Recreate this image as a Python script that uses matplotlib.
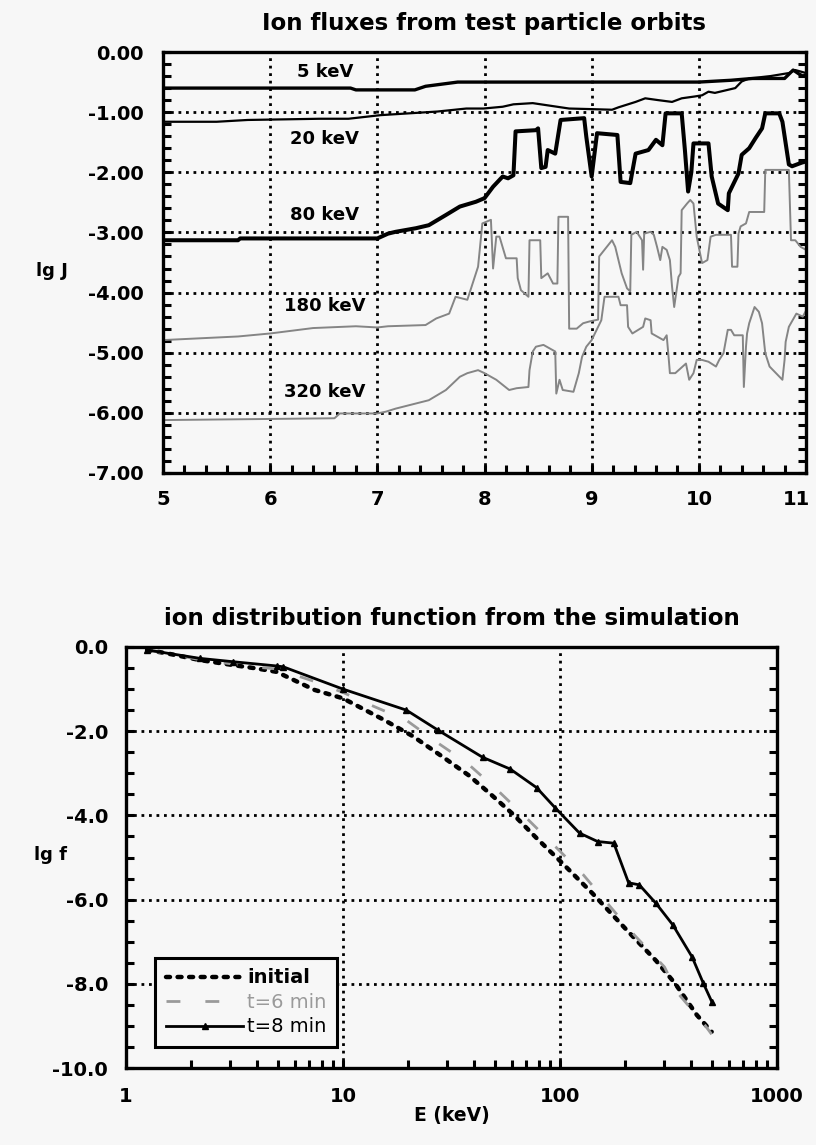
import matplotlib
matplotlib.use('Agg')
import matplotlib.pyplot as plt
from matplotlib.ticker import MultipleLocator, LogLocator, NullFormatter
from matplotlib.transforms import ScaledTranslation

plt.rcParams['font.family'] = ['DejaVu Sans']
plt.rcParams['axes.unicode_minus'] = False

# ---------------- data: top panel (lg J vs L) ----------------
x_5kev = [5.0, 6.75, 6.8, 7.35, 7.45, 7.75, 10.0, 10.3, 10.5, 10.8, 10.84, 10.88, 10.93, 10.97, 11.0]
j_5kev = [-0.60, -0.60, -0.63, -0.63, -0.57, -0.50, -0.50, -0.47, -0.44, -0.44, -0.37, -0.30, -0.36, -0.40, -0.38]

x_20kev = [5.0, 5.5, 5.79, 6.46, 6.73, 7.03, 7.56, 7.83, 7.99, 8.17, 8.27, 8.45, 8.79, 9.0, 9.19,
           9.25, 9.41, 9.5, 9.62, 9.75, 9.84, 9.96, 10.03, 10.09, 10.15, 10.34, 10.4, 10.47, 10.67,
           10.84, 10.9, 11.0]
j_20kev = [-1.16, -1.16, -1.13, -1.11, -1.11, -1.05, -0.99, -0.94, -0.94, -0.91, -0.87, -0.85, -0.94, -0.95, -0.96,
           -0.92, -0.83, -0.77, -0.80, -0.83, -0.77, -0.74, -0.72, -0.66, -0.68, -0.60, -0.49, -0.44, -0.40,
           -0.35, -0.30, -0.35]

x_80kev = [5.0, 5.7, 5.72, 7.0, 7.1, 7.17, 7.36, 7.48, 7.64, 7.77, 7.92, 8.0, 8.08, 8.17, 8.22,
           8.27, 8.29, 8.48, 8.5, 8.53, 8.57, 8.59, 8.66, 8.71, 8.93, 8.95, 9.0, 9.05, 9.24, 9.27,
           9.36, 9.41, 9.53, 9.6, 9.66, 9.69, 9.84, 9.87, 9.9, 9.93, 9.95, 10.09, 10.12, 10.18, 10.27,
           10.28, 10.34, 10.37, 10.4, 10.47, 10.53, 10.59, 10.62, 10.75, 10.78, 10.84, 10.87, 10.96, 11.0]
j_80kev = [-3.13, -3.13, -3.10, -3.10, -3.02, -2.99, -2.93, -2.88, -2.71, -2.57, -2.49, -2.43, -2.24, -2.07, -2.10,
           -2.05, -1.32, -1.30, -1.27, -1.93, -1.91, -1.63, -1.69, -1.13, -1.10, -1.41, -2.07, -1.35, -1.38, -2.16,
           -2.18, -1.69, -1.63, -1.46, -1.55, -1.02, -1.02, -1.63, -2.32, -2.00, -1.52, -1.52, -2.07, -2.52, -2.63,
           -2.35, -2.13, -2.02, -1.71, -1.60, -1.43, -1.27, -1.02, -1.02, -1.16, -1.87, -1.90, -1.84, -1.82]

x_180kev = [5.0, 5.7, 6.0, 6.4, 6.8, 7.0, 7.1, 7.45, 7.55, 7.67, 7.73, 7.84, 7.88, 7.94, 7.98,
            8.02, 8.06, 8.08, 8.11, 8.14, 8.2, 8.3, 8.31, 8.34, 8.41, 8.42, 8.52, 8.53, 8.59, 8.64,
            8.68, 8.69, 8.78, 8.79, 8.86, 8.92, 8.98, 9.06, 9.07, 9.19, 9.22, 9.25, 9.28, 9.33, 9.36,
            9.37, 9.42, 9.47, 9.48, 9.49, 9.55, 9.58, 9.61, 9.64, 9.66, 9.7, 9.73, 9.75, 9.77, 9.81,
            9.83, 9.84, 9.89, 9.92, 9.95, 9.98, 10.03, 10.08, 10.11, 10.16, 10.30, 10.31, 10.36, 10.37, 10.39,
            10.44, 10.47, 10.61, 10.62, 10.84, 10.86, 10.9, 10.95, 11.0]
j_180kev = [-4.79, -4.73, -4.68, -4.59, -4.56, -4.58, -4.56, -4.54, -4.43, -4.35, -4.07, -4.12, -3.90, -3.57, -2.85,
            -2.82, -2.79, -3.60, -3.07, -3.07, -3.43, -3.43, -3.76, -3.96, -4.07, -3.13, -3.13, -3.76, -3.68, -3.85,
            -3.85, -2.74, -2.74, -4.60, -4.60, -4.51, -4.48, -4.45, -3.40, -3.13, -3.24, -3.46, -3.68, -3.93, -3.98,
            -3.04, -2.99, -3.13, -3.62, -3.02, -2.99, -3.04, -3.24, -3.46, -3.24, -3.29, -3.46, -3.90, -4.24, -3.74,
            -3.68, -2.63, -2.52, -2.46, -2.52, -3.07, -3.51, -3.46, -3.07, -3.04, -3.04, -3.57, -3.57, -3.02, -2.90,
            -2.85, -2.66, -2.66, -1.96, -1.96, -3.13, -3.13, -3.24, -3.29]

x_320kev = [5.0, 6.6, 6.65, 7.0, 7.08, 7.17, 7.48, 7.64, 7.77, 7.84, 7.94, 8.0, 8.11, 8.23, 8.3,
            8.41, 8.42, 8.45, 8.48, 8.55, 8.61, 8.66, 8.67, 8.7, 8.73, 8.83, 8.88, 8.91, 8.95, 9.0,
            9.09, 9.12, 9.25, 9.27, 9.33, 9.34, 9.38, 9.48, 9.5, 9.55, 9.56, 9.61, 9.67, 9.7, 9.72,
            9.73, 9.78, 9.83, 9.88, 9.91, 9.95, 9.98, 10.03, 10.09, 10.16, 10.19, 10.23, 10.27, 10.3, 10.33,
            10.41, 10.42, 10.44, 10.45, 10.47, 10.52, 10.56, 10.59, 10.62, 10.66, 10.72, 10.78, 10.8, 10.81, 10.84,
            10.91, 10.97, 11.0]
j_320kev = [-6.12, -6.09, -6.01, -6.01, -5.98, -5.93, -5.79, -5.62, -5.40, -5.34, -5.29, -5.34, -5.45, -5.62, -5.59,
            -5.57, -5.29, -4.98, -4.90, -4.87, -4.93, -4.98, -5.68, -5.45, -5.62, -5.65, -5.34, -5.07, -4.90, -4.79,
            -4.46, -4.07, -4.07, -4.21, -4.21, -4.57, -4.68, -4.57, -4.43, -4.46, -4.68, -4.73, -4.79, -4.71, -5.12,
            -5.34, -5.34, -5.26, -5.18, -5.45, -5.34, -5.12, -5.12, -5.15, -5.23, -5.12, -5.01, -4.62, -4.62, -4.71,
            -4.71, -5.57, -4.90, -4.68, -4.51, -4.24, -4.32, -4.51, -5.01, -5.23, -5.34, -5.45, -5.12, -4.82, -4.57,
            -4.35, -4.40, -4.30]

energy_labels = ['5 keV', '20 keV', '80 keV', '180 keV', '320 keV']
top_xticks = [5, 6, 7, 8, 9, 10, 11]
top_yticks = [0, -1, -2, -3, -4, -5, -6, -7]

# ---------------- data: bottom panel (lg f vs E) ----------------
E_init = [1.25, 1.54, 2.19, 3.12, 4.0, 4.94, 7.4, 10, 15.3, 21, 29, 38, 48, 61, 78, 100, 141, 201, 277, 340, 427, 500]
f_init = [-0.07, -0.15, -0.31, -0.43, -0.51, -0.59, -1.02, -1.22, -1.72, -2.12, -2.62, -3.05, -3.50, -3.98, -4.54,
          -5.08, -5.85, -6.70, -7.45, -8.00, -8.74, -9.14]

E_t6 = [1.25, 2.19, 4.0, 4.94, 7.4, 10, 14, 19.6, 27, 37, 51, 70, 100, 128, 168, 220, 303, 345, 465, 500]
f_t6 = [-0.07, -0.30, -0.48, -0.52, -0.82, -1.08, -1.42, -1.74, -2.26, -2.74, -3.38, -4.06, -4.85, -5.41, -6.13,
        -6.84, -7.60, -8.19, -8.98, -9.20]

E_t8 = [1.25, 2.19, 3.12, 4.94, 5.3, 10, 19.6, 27.5, 44, 59, 78, 95, 123, 149, 177, 207, 232, 277, 331, 406, 457, 502]
f_t8 = [-0.07, -0.27, -0.35, -0.45, -0.47, -1.00, -1.50, -1.98, -2.62, -2.90, -3.34, -3.82, -4.42, -4.62, -4.66,
        -5.60, -5.65, -6.09, -6.60, -7.36, -7.98, -8.44]

series_labels = ['initial', 't=6 min', 't=8 min']
bot_xticks = [1, 10, 100, 1000]
bot_yticks = [0, -2, -4, -6, -8, -10]

# ---------------- figure ----------------
BG = '#f7f7f7'
W, H = 816, 1145
fig = plt.figure(figsize=(W / 100, H / 100), dpi=100, facecolor=BG)


def rect(l, t, r, b):
    return [l / W, 1 - b / H, (r - l) / W, (b - t) / H]


ax1 = fig.add_axes(rect(163, 52, 806, 473), facecolor=BG)
ax2 = fig.add_axes(rect(126, 647, 777, 1068), facecolor=BG)

grid_kw = dict(color='black', linewidth=2.0, linestyle=(0, (1, 1.7)))
tick_font = dict(fontsize=14, fontweight='bold')

for ax in (ax1, ax2):
    for s in ax.spines.values():
        s.set_linewidth(2.4)

# ---- top panel ----
ax1.set_xlim(5, 11)
ax1.set_ylim(-7, 0)
ax1.set_xticks(top_xticks, [str(v) for v in top_xticks], **tick_font)
ax1.set_yticks(top_yticks, [f'{v:.2f}' for v in top_yticks], **tick_font)
ax1.xaxis.set_minor_locator(MultipleLocator(0.2))
ax1.yaxis.set_minor_locator(MultipleLocator(0.2))
ax1.grid(True, which='major', **grid_kw)
ax1.set_axisbelow(True)
ax1.tick_params(which='both', direction='in', left=True, right=True, bottom=True, top=False,
                width=2.2, length=6)
ax1.tick_params(axis='y', which='major', pad=14)
ax1.tick_params(axis='x', which='major', pad=12)
last = ax1.get_xticklabels()[-1]
last.set_ha('right')
last.set_transform(last.get_transform() + ScaledTranslation(4 / 100, 0, fig.dpi_scale_trans))

grey = '#858585'
ax1.plot(x_5kev, j_5kev, color='black', lw=2.4, zorder=3)
ax1.plot(x_20kev, j_20kev, color='black', lw=1.6, zorder=3)
ax1.plot(x_80kev, j_80kev, color='black', lw=2.9, zorder=3)
ax1.plot(x_180kev, j_180kev, color=grey, lw=1.4, zorder=2)
ax1.plot(x_320kev, j_320kev, color=grey, lw=1.4, zorder=2)

for lab, yy in zip(energy_labels, [-0.33, -1.44, -2.71, -4.23, -5.65]):
    ax1.text(6.51, yy, lab, ha='center', va='center', fontsize=13, fontweight='bold', zorder=4)

fig.text(484 / W, 1 - 30 / H, 'Ion fluxes from test particle orbits', ha='center', va='baseline',
         fontsize=16.5, fontweight='bold')
fig.text(52 / W, 1 - 271 / H, 'lg J', ha='center', va='center', fontsize=13, fontweight='bold')

# ---- bottom panel ----
ax2.set_xscale('log')
ax2.set_xlim(1, 1000)
ax2.set_ylim(-10, 0)
ax2.set_xticks(bot_xticks, [str(v) for v in bot_xticks], **tick_font)
ax2.set_yticks(bot_yticks, [f'{v:.1f}' for v in bot_yticks], **tick_font)
ax2.xaxis.set_minor_locator(LogLocator(base=10, subs=range(2, 10)))
ax2.xaxis.set_minor_formatter(NullFormatter())
ax2.yaxis.set_minor_locator(MultipleLocator(0.5))
ax2.grid(True, which='major', **grid_kw)
ax2.set_axisbelow(True)
ax2.tick_params(which='both', direction='in', left=True, right=True, bottom=True, top=False,
                width=2.2, length=6)
ax2.tick_params(axis='y', which='major', pad=13)
ax2.tick_params(axis='x', which='major', pad=14)

ax2.plot(E_init, f_init, color='black', lw=3.2, linestyle=(0, (0.9, 1.7)), dash_capstyle='round',
         label=series_labels[0], zorder=3)
ax2.plot(E_t6, f_t6, color='#9a9a9a', lw=2.0, linestyle=(0, (5, 9)), label=series_labels[1], zorder=3)
ax2.plot(E_t8, f_t8, color='black', lw=2.0, marker='^', ms=4, label=series_labels[2], zorder=3)

leg = ax2.legend(loc='lower left', bbox_to_anchor=(29 / 651, 21 / 421), borderaxespad=0,
                 frameon=True, fancybox=False, edgecolor='black', framealpha=1, facecolor=BG,
                 fontsize=14, handlelength=4.0, handletextpad=0.2, labelspacing=0.28,
                 borderpad=0.55, numpoints=1)
leg.get_frame().set_linewidth(2.2)
leg.get_texts()[0].set_fontweight('bold')
leg.get_texts()[1].set_color('#9a9a9a')

fig.text(452 / W, 1 - 625 / H, 'ion distribution function from the simulation', ha='center',
         va='baseline', fontsize=16.5, fontweight='bold')
fig.text(50 / W, 1 - 855 / H, 'lg f', ha='center', va='center', fontsize=13, fontweight='bold')
fig.text(452 / W, 1 - 1115 / H, 'E (keV)', ha='center', va='center', fontsize=13.5, fontweight='bold')

fig.savefig('out.png', dpi=100, facecolor=BG)
